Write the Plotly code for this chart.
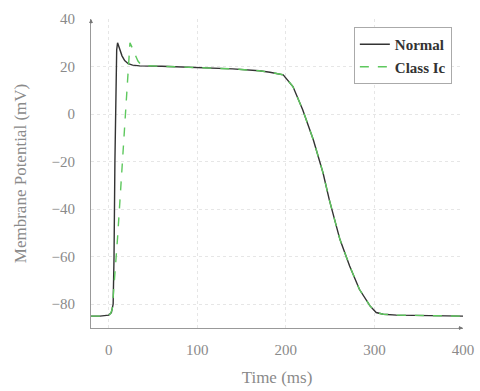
import plotly.graph_objects as go

# Normal action potential (time ms, potential mV)
t_normal = [-20, -10, 0, 3, 5, 6, 7, 8, 9, 10, 12, 15, 18, 22, 27, 35, 60, 100, 140, 170,
            182, 197, 208, 219, 231, 242, 249, 261, 272, 283, 295, 302, 310, 325, 350, 400]
v_normal = [-85, -85, -84.6, -83.5, -80, -60, -20, 10, 27, 30, 27.5, 24.5, 22.5, 21.2, 20.6, 20.3, 20.1, 19.6, 19, 18.2,
            17.6, 16.5, 11.6, 1.8, -10.8, -24.8, -36, -52.7, -63.9, -73.7, -80.7, -83.5, -84.2, -84.6, -84.8, -85]

# Class Ic (slower upstroke, same plateau/repolarisation)
t_ic = [-20, -10, 0, 2, 4, 10, 16, 21, 24, 27, 30, 33, 36, 40, 60, 100, 140, 170,
        182, 197, 208, 219, 231, 242, 249, 261, 272, 283, 295, 302, 310, 325, 350, 400]
v_ic = [-85, -85, -84.6, -84, -82, -52, -17, 12, 30, 27.5, 24.5, 22.3, 21, 20.4, 20.1, 19.6, 19, 18.2,
        17.6, 16.5, 11.6, 1.8, -10.8, -24.8, -36, -52.7, -63.9, -73.7, -80.7, -83.5, -84.2, -84.6, -84.8, -85]

x_ticks = [0, 100, 200, 300, 400]
y_ticks = [-80, -60, -40, -20, 0, 20, 40]
y_tick_text = ["−80", "−60", "−40", "−20", "0", "20", "40"]

FONT = "Liberation Serif"
TXT = "#8a8a8a"

fig = go.Figure()
fig.add_trace(go.Scatter(x=t_normal, y=v_normal, mode="lines", name="Normal",
                         line=dict(color="#333333", width=1.4)))
fig.add_trace(go.Scatter(x=t_ic, y=v_ic, mode="lines", name="Class Ic",
                         line=dict(color="#5ec85e", width=1.4, dash="dash")))

fig.update_layout(
    width=480, height=391,
    margin=dict(l=91, r=17, t=19, b=63),
    plot_bgcolor="white", paper_bgcolor="white",
    font=dict(family=FONT, color=TXT, size=13),
    showlegend=True,
    legend=dict(x=0.97, y=0.974, xanchor="right", yanchor="top",
                bgcolor="white", bordercolor="#aaaaaa", borderwidth=1,
                font=dict(family=FONT, size=15, color="#333333", weight="bold"),
                tracegroupgap=0, itemwidth=30),
    xaxis=dict(range=[-20, 400], tickvals=x_ticks, showline=True, linecolor="#999999",
               linewidth=1, zeroline=False, showgrid=True, gridcolor="#e6e6e6",
               griddash="dot", ticks="", tickfont=dict(size=15, color=TXT), automargin=False,
               ticklabelstandoff=8,
               title=dict(text="Time (ms)", font=dict(size=17, color=TXT), standoff=14)),
    yaxis=dict(range=[-90, 40], tickvals=y_ticks, ticktext=y_tick_text, showline=True,
               linecolor="#999999", linewidth=1, zeroline=False, showgrid=True,
               gridcolor="#e6e6e6", griddash="dot", ticks="", ticklabelstandoff=12,
               tickfont=dict(size=15, color=TXT), automargin=False,
               title=dict(text="Membrane Potential (mV)", font=dict(size=17, color=TXT), standoff=20)),
)

# axis arrow heads
fig.add_annotation(x=0, y=1, xref="paper", yref="paper", ax=0, ay=6, axref="pixel", ayref="pixel",
                   showarrow=True, arrowhead=2, arrowsize=0.8, arrowwidth=1, arrowcolor="#777777", text="")
fig.add_annotation(x=1, y=0, xref="paper", yref="paper", ax=-6, ay=0, axref="pixel", ayref="pixel",
                   showarrow=True, arrowhead=2, arrowsize=0.8, arrowwidth=1, arrowcolor="#777777", text="")

fig.write_html("out.html", config={"displayModeBar": False},
               post_script="document.body.style.margin='0';")
